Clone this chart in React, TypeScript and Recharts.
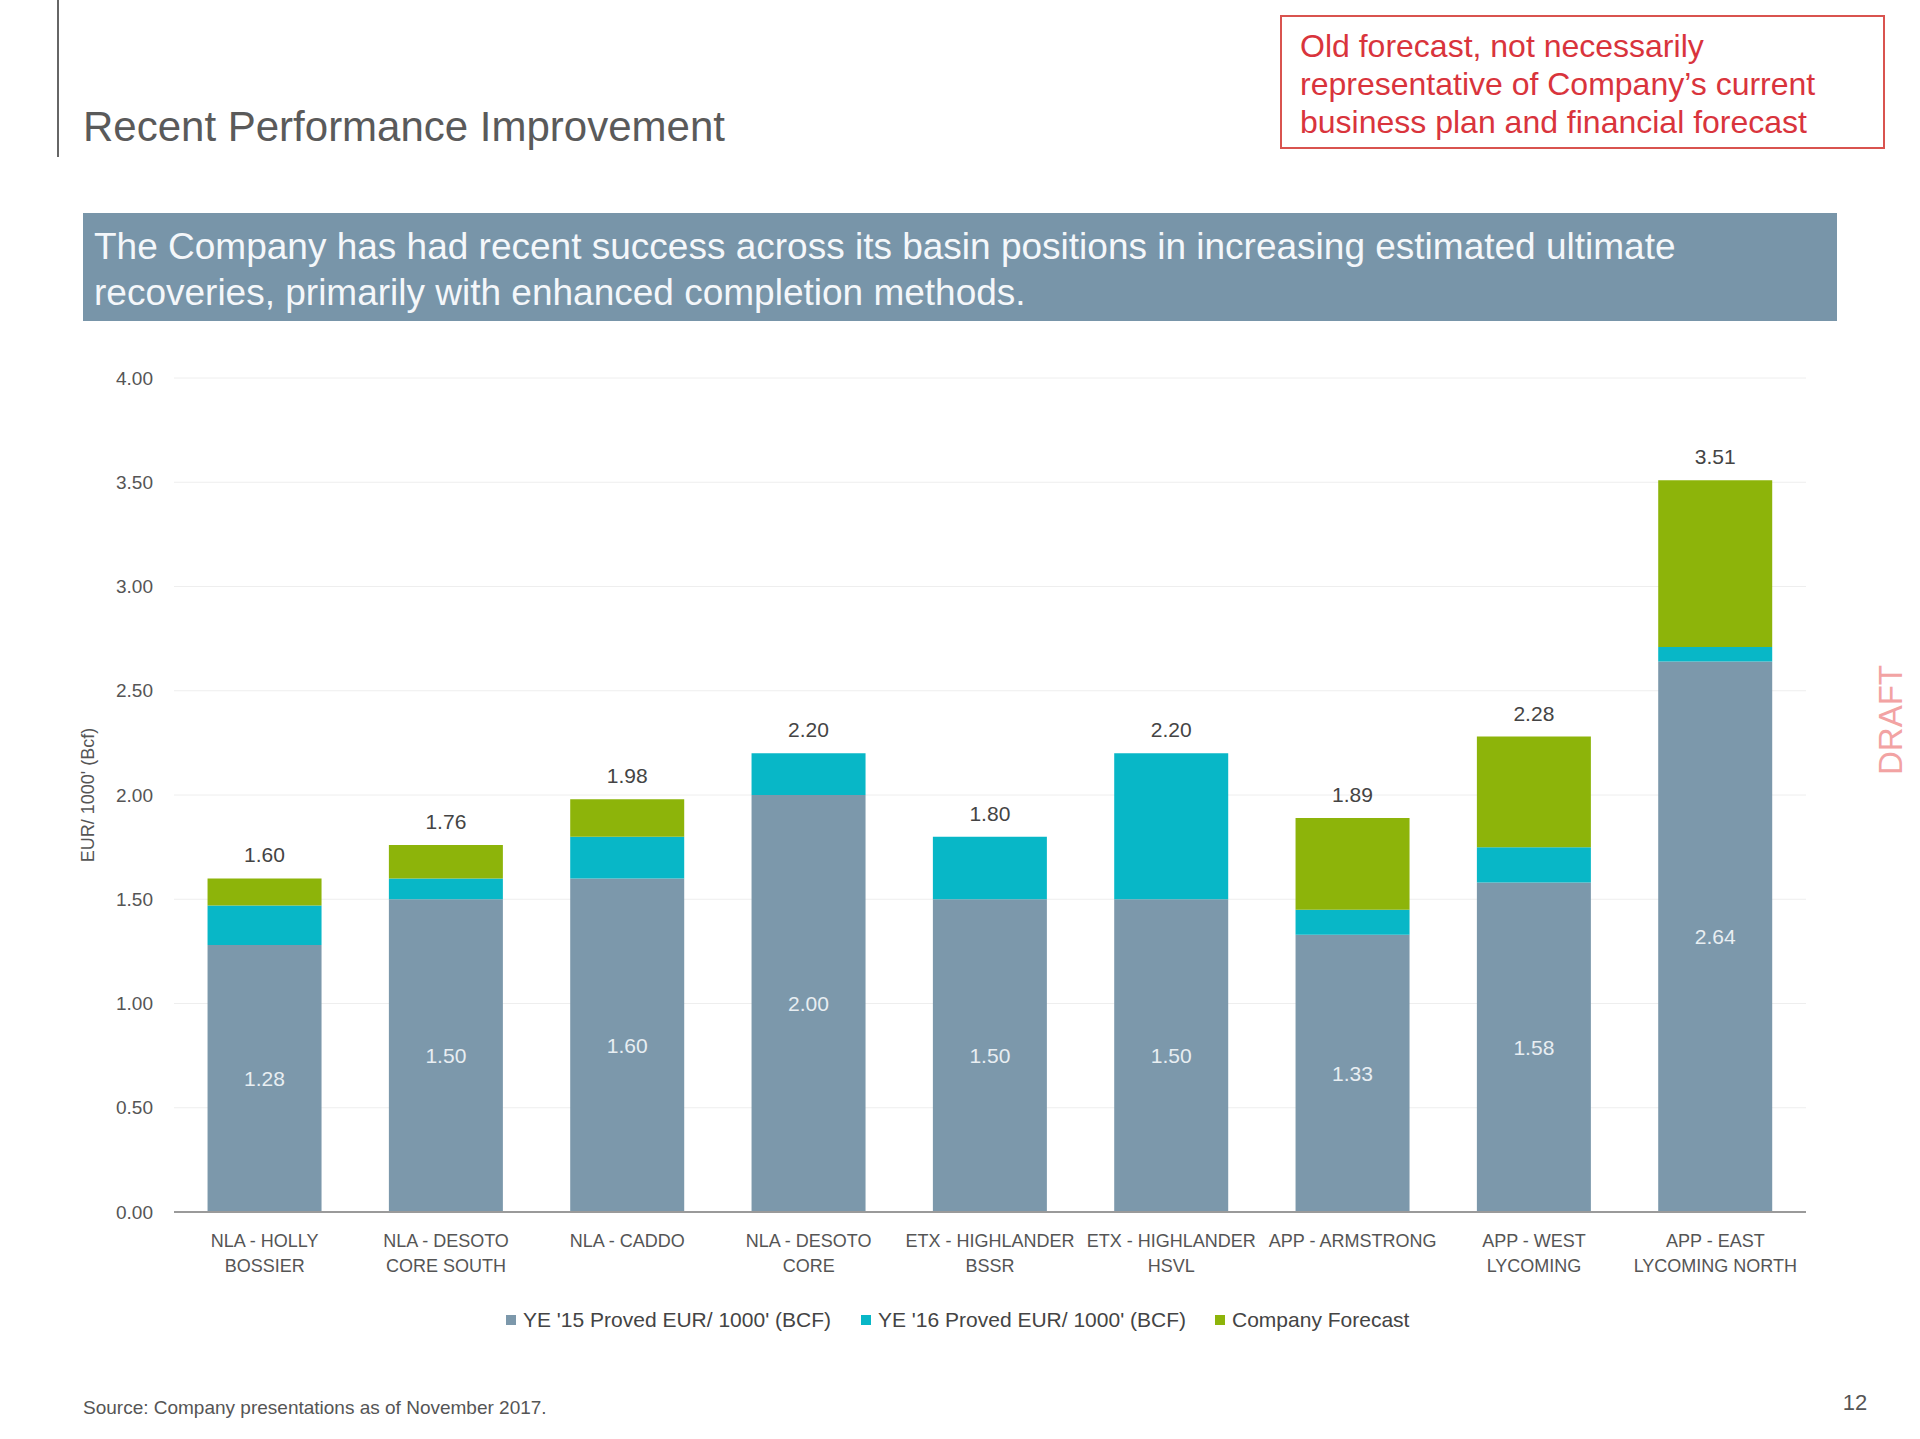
import React from 'react';
import { BarChart, Bar, XAxis, YAxis, CartesianGrid, LabelList } from 'recharts';

const categories = [
  'NLA - HOLLY\nBOSSIER',
  'NLA - DESOTO\nCORE SOUTH',
  'NLA - CADDO',
  'NLA - DESOTO\nCORE',
  'ETX - HIGHLANDER\nBSSR',
  'ETX - HIGHLANDER\nHSVL',
  'APP - ARMSTRONG',
  'APP - WEST\nLYCOMING',
  'APP - EAST\nLYCOMING NORTH',
];
const ye15 = [1.28, 1.5, 1.6, 2.0, 1.5, 1.5, 1.33, 1.58, 2.64];
const ye16 = [0.19, 0.1, 0.2, 0.2, 0.3, 0.7, 0.12, 0.17, 0.07];
const forecast = [0.13, 0.16, 0.18, 0, 0, 0, 0.44, 0.53, 0.8];
const totals = [1.6, 1.76, 1.98, 2.2, 1.8, 2.2, 1.89, 2.28, 3.51];
const yTicks = [0, 0.5, 1, 1.5, 2, 2.5, 3, 3.5, 4];

const seriesNames = ["YE '15 Proved EUR/ 1000' (BCF)", "YE '16 Proved EUR/ 1000' (BCF)", 'Company Forecast'];
const colors = ['#7c98ab', '#08b7c7', '#8db40a'];

const FONT = '"Liberation Sans", Arial, sans-serif';

// total label sits on whichever segment is the top of the stack
const data = categories.map((name, i) => ({
  name,
  ye15: ye15[i],
  ye16: ye16[i],
  forecast: forecast[i],
  totalOn16: forecast[i] > 0 ? null : totals[i],
  totalOnF: forecast[i] > 0 ? totals[i] : null,
}));

const fmt = (v: any) => (v == null ? '' : Number(v).toFixed(2));

const CategoryTick = (props: any) => {
  const { x, y, payload } = props;
  const lines = String(payload.value).split('\n');
  return (
    <g>
      {lines.map((line, i) => (
        <text key={i} x={x} y={y + 33 + i * 25} textAnchor="middle" fontSize={18} fill="#555" fontFamily={FONT}>
          {line}
        </text>
      ))}
    </g>
  );
};

const topLabelProps = {
  position: 'top' as const,
  offset: 16,
  fill: '#444',
  fontSize: 21,
  fontFamily: FONT,
  formatter: fmt,
};

const App = () => {
  return (
    <div style={{ position: 'absolute', left: 0, top: 0, width: 1920, height: 1439, background: '#fff', fontFamily: FONT }}>
      <BarChart
        width={1920}
        height={1439}
        data={data}
        margin={{ top: 378, right: 114, bottom: 167, left: 0 }}
        barCategoryGap="18.5%"
      >
        <CartesianGrid vertical={false} stroke="#eeeeee" />
        <XAxis
          dataKey="name"
          height={60}
          tickLine={false}
          tickSize={0}
          axisLine={{ stroke: '#9a9a9a', strokeWidth: 2 }}
          tick={<CategoryTick />}
          interval={0}
        />
        <YAxis
          width={174}
          domain={[0, 4]}
          ticks={yTicks}
          tickFormatter={(v: number) => v.toFixed(2)}
          axisLine={false}
          tickLine={false}
          tickSize={0}
          tickMargin={21}
          tick={{ fontSize: 19, fill: '#555', fontFamily: FONT }}
          label={{
            value: "EUR/ 1000' (Bcf)",
            angle: -90,
            position: 'insideLeft',
            offset: 88,
            style: { fontSize: 18, fill: '#555', fontFamily: FONT, textAnchor: 'middle' },
          }}
        />
        <Bar dataKey="ye15" stackId="a" fill={colors[0]} isAnimationActive={false}>
          <LabelList dataKey="ye15" position="center" fill="#e8eef2" fontSize={21} fontFamily={FONT} formatter={fmt} />
        </Bar>
        <Bar dataKey="ye16" stackId="a" fill={colors[1]} isAnimationActive={false}>
          <LabelList dataKey="totalOn16" {...topLabelProps} />
        </Bar>
        <Bar dataKey="forecast" stackId="a" fill={colors[2]} isAnimationActive={false}>
          <LabelList dataKey="totalOnF" {...topLabelProps} />
        </Bar>
      </BarChart>

      <svg
        width={1920}
        height={1439}
        style={{ position: 'absolute', left: 0, top: 0, pointerEvents: 'none' }}
        fontFamily={FONT}
      >
        {/* header */}
        <rect x={57} y={0} width={2} height={157} fill="#666" />
        <text x={83} y={141} fontSize={42} fill="#5a5a5a">
          Recent Performance Improvement
        </text>

        <rect x={1281} y={16} width={603} height={132} fill="#fff" stroke="#d9534f" strokeWidth={2} />
        <text fontSize={32} fill="#d9343c">
          <tspan x={1300} y={57}>Old forecast, not necessarily</tspan>
          <tspan x={1300} y={95}>representative of Company’s current</tspan>
          <tspan x={1300} y={133}>business plan and financial forecast</tspan>
        </text>

        <rect x={83} y={213} width={1754} height={108} fill="#7895a9" />
        <text fontSize={37} fill="#f4f7fa">
          <tspan x={94} y={259}>The Company has had recent success across its basin positions in increasing estimated ultimate</tspan>
          <tspan x={94} y={305}>recoveries, primarily with enhanced completion methods.</tspan>
        </text>

        {/* legend */}
        {seriesNames.map((s, i) => {
          const xs = [506, 861, 1215];
          return (
            <g key={s}>
              <rect x={xs[i]} y={1315} width={10} height={10} fill={colors[i]} />
              <text x={xs[i] + 17} y={1327} fontSize={21} fill="#444">
                {s}
              </text>
            </g>
          );
        })}

        <text
          x={1890}
          y={720}
          fontSize={33}
          fill="#f2a3a3"
          textAnchor="middle"
          dominantBaseline="central"
          transform="rotate(-90 1890 720)"
        >
          DRAFT
        </text>

        <text x={83} y={1414} fontSize={19} fill="#555">
          Source: Company presentations as of November 2017.
        </text>
        <text x={1855} y={1410} fontSize={22} fill="#555" textAnchor="middle">
          12
        </text>
      </svg>
    </div>
  );
};

export default App;
